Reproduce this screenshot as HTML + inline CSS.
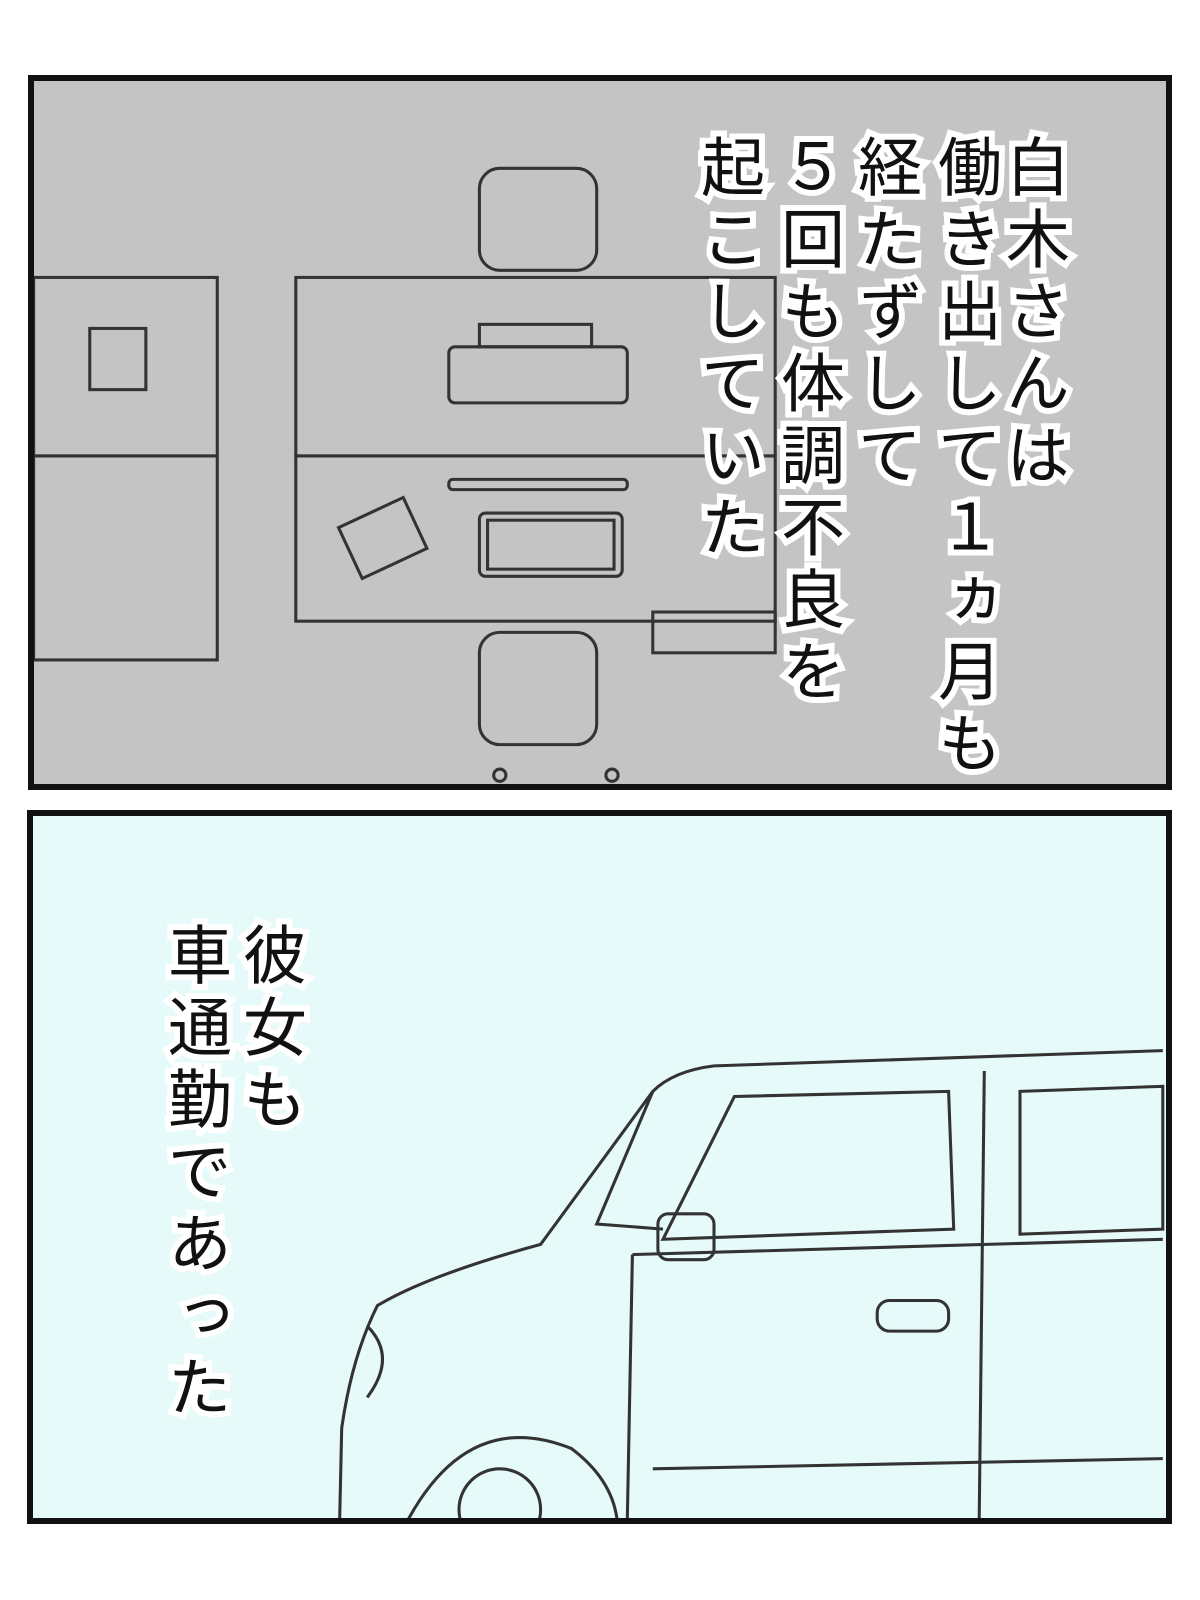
<!DOCTYPE html>
<html><head><meta charset="utf-8"><style>
html,body{margin:0;padding:0;background:#fff;width:1200px;height:1600px;overflow:hidden}
.p{position:absolute;border:6px solid #111;box-sizing:border-box}
.t{position:absolute;writing-mode:vertical-rl;text-orientation:upright;font-family:"Noto Sans CJK JP",sans-serif;font-size:64px;letter-spacing:8px;line-height:1;color:#111;-webkit-text-stroke:12px #fff;paint-order:stroke fill;font-weight:400;white-space:nowrap}
svg{position:absolute;left:0;top:0}
</style></head><body>
<div class="p" style="left:28px;top:75px;width:1144px;height:715px;background:#c4c4c4"></div>
<div class="p" style="left:27px;top:810px;width:1145px;height:714px;background:#e6fafa"></div>
<svg width="1200" height="1600" fill="none" stroke="#333" stroke-width="3">
<defs>
<clipPath id="c1"><rect x="34" y="81" width="1132" height="703"/></clipPath>
<clipPath id="c2"><rect x="33" y="816" width="1133" height="702"/></clipPath>
</defs>
<g clip-path="url(#c1)"><g transform="scale(1.02)">
<rect x="290" y="272" width="470" height="175"/>
<rect x="290" y="447" width="470" height="162"/>
<rect x="33" y="272" width="180" height="175"/>
<rect x="33" y="447" width="180" height="200"/>
<rect x="88" y="322" width="55" height="60"/>
<rect x="470" y="503" width="140" height="62" rx="6"/>
<rect x="478" y="510" width="124" height="48"/>
<rect x="440" y="470" width="175" height="10" rx="4"/>
<rect x="440" y="340" width="175" height="55" rx="6"/>
<rect x="470" y="318" width="110" height="22"/>
<rect x="340" y="500" width="70" height="55" transform="rotate(-25 375 527)"/>
<rect x="470" y="165" width="115" height="100" rx="20"/>
<rect x="470" y="620" width="115" height="110" rx="20"/>
<rect x="640" y="600" width="120" height="40"/>
<circle cx="490" cy="760" r="6"/><circle cx="600" cy="760" r="6"/>
</g></g>
<g clip-path="url(#c2)"><g transform="scale(1.02)">
<path d="M1140 1030 L700 1045 Q660 1050 640 1070 L530 1220 Q420 1250 370 1280 Q345 1330 335 1400 L333 1490"/>
<path d="M640 1070 L585 1200 L650 1205"/>
<path d="M720 1075 L930 1070 L935 1205 L650 1215 Z"/>
<path d="M1000 1070 L1140 1065 L1140 1205 L1000 1210 Z"/>
<path d="M965 1050 L960 1490"/>
<path d="M620 1230 L615 1490"/>
<path d="M620 1230 L1140 1215"/>
<path d="M640 1440 L1140 1430"/>
<rect x="860" y="1275" width="70" height="30" rx="12"/>
<rect x="645" y="1190" width="55" height="45" rx="10"/>
<path d="M360 1300 Q390 1330 360 1370"/>
<path d="M400 1490 Q460 1380 560 1420 Q600 1450 605 1490"/>
<circle cx="490" cy="1480" r="40"/>
</g></g>
</svg>
<div class="t" style="left:1006px;top:134px">白木さんは</div>
<div class="t" style="left:938px;top:134px">働き出して１ヵ月も</div>
<div class="t" style="left:858px;top:134px">経たずして</div>
<div class="t" style="left:781px;top:134px">５回も体調不良を</div>
<div class="t" style="left:701px;top:134px">起こしていた</div>
<div class="t" style="left:243px;top:922px">彼女も</div>
<div class="t" style="left:168px;top:922px">車通勤であった</div>
</body></html>
